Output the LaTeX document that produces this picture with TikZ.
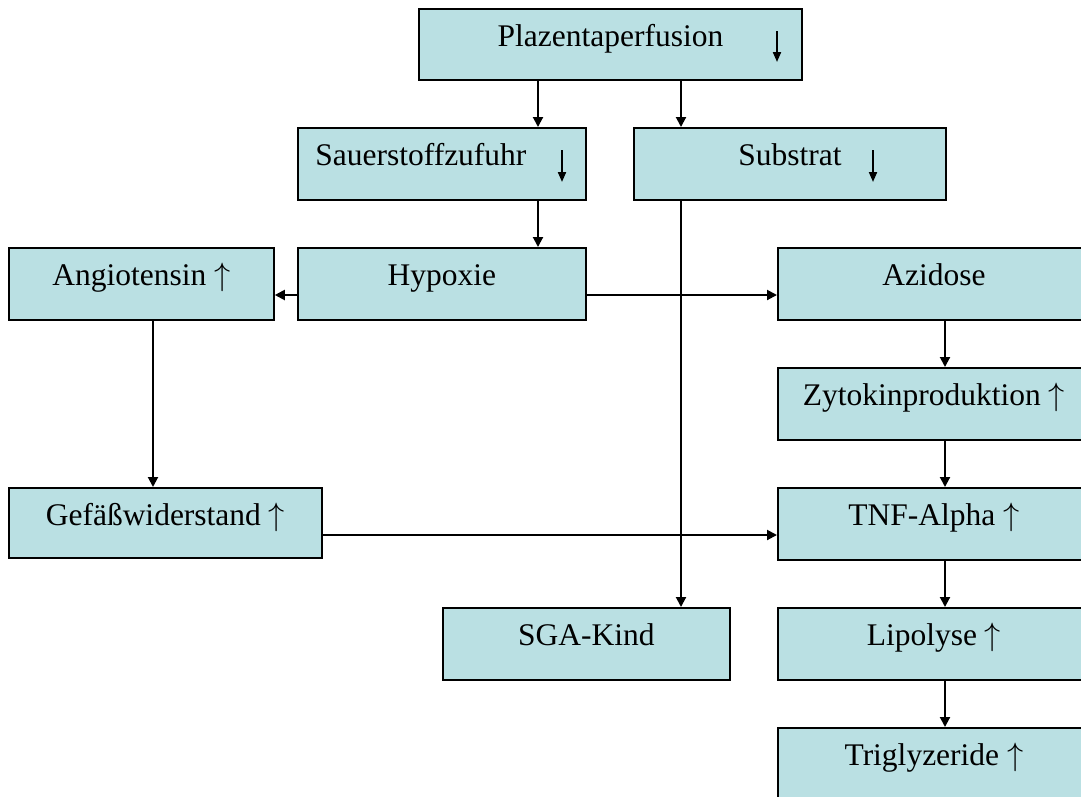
\documentclass[tikz,border=0pt]{standalone}
\usepackage{fontspec}
\setmainfont{Liberation Serif}
\usetikzlibrary{arrows.meta}
\definecolor{boxfill}{RGB}{186,224,227}
\newcommand{\upa}{\scalebox{1.3}{$\uparrow$}}
\tikzset{
  box/.style={draw=black, line width=1.8pt, fill=boxfill, inner sep=0pt, anchor=north west,
    minimum height=72pt, text height=38pt, text depth=34pt,
    font=\fontsize{31.5}{36}\selectfont},
  conn/.style={line width=2pt, -{Triangle[length=10pt,width=10pt]}},
  inarrow/.style={line width=2pt, -{Triangle[length=10pt,width=8pt]}},
}
\begin{document}
\begin{tikzpicture}[x=1pt,y=-1pt]
\useasboundingbox (0,0) rectangle (1081,796);
\node[box, minimum width=383pt, minimum height=71pt, text depth=33pt] (plaz) at (418,8) {Plazentaperfusion};
\node[box, minimum width=288pt] (sauer) at (297,127) {Sauerstoffzufuhr\hspace*{42pt}};
\node[box, minimum width=312pt] (subst) at (633,127) {Substrat};
\node[box, minimum width=265pt] (angio) at (8,247) {Angiotensin \upa};
\node[box, minimum width=288pt] (hyp) at (297,247) {Hypoxie};
\node[box, minimum width=312pt] (azi) at (777,247) {Azidose};
\node[box, minimum width=312pt] (zyto) at (777,367) {Zytokinproduktion \upa};
\node[box, minimum width=313pt, minimum height=70pt, text depth=32pt] (gef) at (8,487) {Gefäßwiderstand \upa};
\node[box, minimum width=312pt] (tnf) at (777,487) {TNF-Alpha \upa};
\node[box, minimum width=287pt] (sga) at (442,607) {SGA-Kind};
\node[box, minimum width=312pt] (lip) at (777,607) {Lipolyse \upa};
\node[box, minimum width=312pt] (tri) at (777,727) {Triglyzeride \upa};
% small down arrows inside boxes
\draw[inarrow] (777,31) -- (777,62);
\draw[inarrow] (562,150) -- (562,182);
\draw[inarrow] (873,150) -- (873,182);
% helper coordinates for connector columns/rows
\coordinate (cA) at (538,0);
\coordinate (cB) at (681,0);
\coordinate (cC) at (945,0);
\coordinate (cD) at (153,0);
\coordinate (rH) at (0,295);
\coordinate (rG) at (0,535);
% connectors
\draw[conn] (plaz.south -| cA) -- (sauer.north -| cA);
\draw[conn] (plaz.south -| cB) -- (subst.north -| cB);
\draw[conn] (sauer.south -| cA) -- (hyp.north -| cA);
\draw[conn] (subst.south -| cB) -- (sga.north -| cB);
\draw[conn] (hyp.west |- rH) -- (angio.east |- rH);
\draw[conn] (hyp.east |- rH) -- (azi.west |- rH);
\draw[conn] (angio.south -| cD) -- (gef.north -| cD);
\draw[conn] (azi.south -| cC) -- (zyto.north -| cC);
\draw[conn] (zyto.south -| cC) -- (tnf.north -| cC);
\draw[conn] (gef.east |- rG) -- (tnf.west |- rG);
\draw[conn] (tnf.south -| cC) -- (lip.north -| cC);
\draw[conn] (lip.south -| cC) -- (tri.north -| cC);
\end{tikzpicture}
\end{document}
